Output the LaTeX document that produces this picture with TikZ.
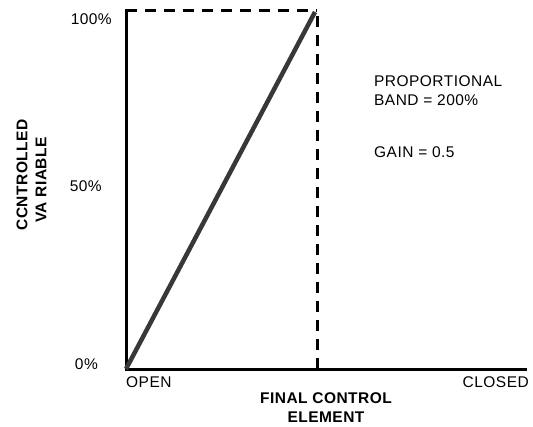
\documentclass[tikz,border=0pt]{standalone}
\usepackage{fontspec}
\setmainfont{Liberation Sans}
\newfontfamily\labfont[LetterSpace=3]{Liberation Sans}
\begin{document}
\begin{tikzpicture}[x=1pt,y=-1pt,
  lab/.style={font=\labfont\fontsize{15.5}{17}\selectfont, inner sep=0pt},
  blab/.style={font=\labfont\bfseries\fontsize{15.5}{17}\selectfont, inner sep=0pt},
  axisline/.style={line width=3pt, black},
  guide/.style={line width=3pt, black, dash pattern=on 11pt off 8pt},
  curve/.style={line width=4.5pt, black!78}]
\useasboundingbox (0,0) rectangle (533,426);
\coordinate (O) at (126,369);
\coordinate (T) at (126,10);
\coordinate (TR) at (317,10);
\coordinate (B) at (317,369);
\coordinate (X) at (525,369);
\coordinate (D) at (315,12);
% axes
\draw[axisline, line cap=rect] (T) -- (O) -- (X);
% guides
\draw[guide] (T) -- (TR);
\draw[guide] (B) -- (TR);
% response line
\draw[curve] (O) -- (D);
% labels
\node[lab, anchor=east] (p100) at (112,19) {100\%};
\node[lab, anchor=east] (p50) at (102,186) {50\%};
\node[lab, anchor=east] (p0) at (98,364) {0\%};
\node[blab, rotate=90] (cv1) at (22,175) {CCNTROLLED};
\node[blab, rotate=90] (cv2) at (41,180) {VA RIABLE};
\node[lab, anchor=west] (open) at (126,382) {OPEN};
\node[lab, anchor=east] (closed) at (529,382) {CLOSED};
\node[blab] (fc1) at (326,398) {FINAL CONTROL};
\node[blab] (fc2) at (326,417) {ELEMENT};
\node[lab, anchor=west] (pb1) at (374,81) {PROPORTIONAL};
\node[lab, anchor=west] (pb2) at (374,100) {BAND = 200\%};
\node[lab, anchor=west] (gain) at (374,152) {GAIN = 0.5};
\end{tikzpicture}
\end{document}
